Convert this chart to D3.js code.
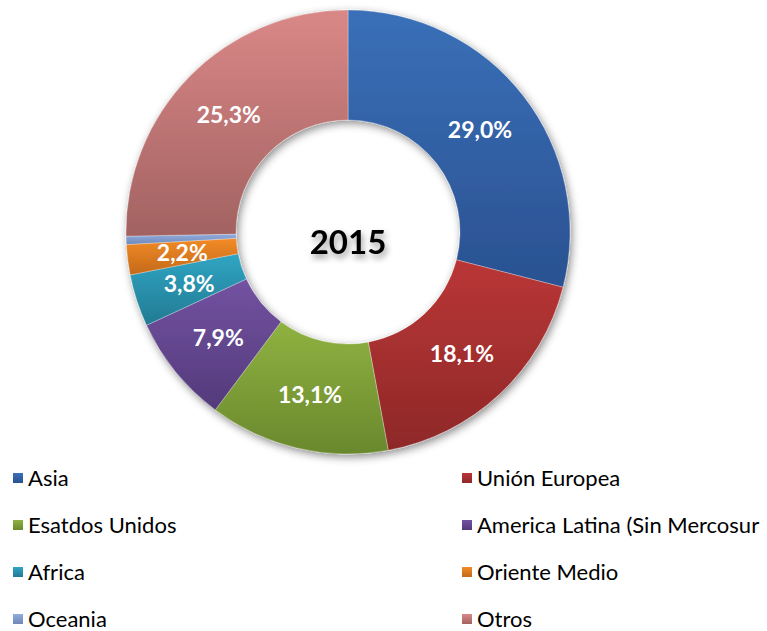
<!DOCTYPE html>
<html>
<head>
<meta charset="utf-8">
<script src="https://cdn.jsdelivr.net/npm/d3@7"></script>
<style>
	body { margin: 0; background: #fff; }
	svg { display: block; }
</style>
</head>
<body>
<svg id="chart" width="767" height="631"></svg>
<script>
var aRegions = ['Asia', 'Unión Europea', 'Esatdos Unidos', 'America Latina (Sin Mercosur', 'Africa', 'Oriente Medio', 'Oceania', 'Otros'];
var aShares = [29.0, 18.1, 13.1, 7.9, 3.8, 2.2, 0.6, 25.3];
var aLabels = ['29,0%', '18,1%', '13,1%', '7,9%', '3,8%', '2,2%', '', '25,3%'];
var aColorsTop = ['#3a70b8', '#ba3636', '#8fb241', '#7352a2', '#30a5c4', '#f38b26', '#91acde', '#d98887'];
var aColorsBottom = ['#2a5191', '#8e2828', '#6a882d', '#533a7a', '#227a92', '#c2691a', '#6f88b8', '#a26261'];
var strTitle = '2015';

var sSvg = d3.select('#chart');
var nCx = 348, nCy = 232;
var nOuter = 222, nInner = 112;

var sDefs = sSvg.append('defs');
var sShadow = sDefs.append('filter')
	.attr('id', 'ringShadow')
	.attr('x', '-20%').attr('y', '-20%')
	.attr('width', '140%').attr('height', '140%');
sShadow.append('feDropShadow')
	.attr('dx', 2).attr('dy', 3)
	.attr('stdDeviation', 4)
	.attr('flood-color', '#000')
	.attr('flood-opacity', 0.45);

var sTextShadow = sDefs.append('filter')
	.attr('id', 'textShadow')
	.attr('x', '-30%').attr('y', '-30%')
	.attr('width', '160%').attr('height', '180%');
sTextShadow.append('feDropShadow')
	.attr('dx', 2).attr('dy', 4)
	.attr('stdDeviation', 3)
	.attr('flood-color', '#000')
	.attr('flood-opacity', 0.4);

aRegions.forEach(function(strName, nIndex)
{
	var sGrad = sDefs.append('linearGradient')
		.attr('id', 'grad' + nIndex)
		.attr('x1', 0).attr('y1', 0)
		.attr('x2', 0).attr('y2', 1);
	sGrad.append('stop').attr('offset', '0%').attr('stop-color', aColorsTop[nIndex]);
	sGrad.append('stop').attr('offset', '100%').attr('stop-color', aColorsBottom[nIndex]);
});

var pie = d3.pie().sort(null).value(function(d) { return d; });
var arc = d3.arc().innerRadius(nInner).outerRadius(nOuter);
var arcLabel = d3.arc().innerRadius((nInner + nOuter) / 2).outerRadius((nInner + nOuter) / 2);

var aArcs = pie(aShares);

var sChart = sSvg.append('g')
	.attr('transform', 'translate(' + nCx + ',' + nCy + ')');

sChart.append('g')
	.attr('filter', 'url(#ringShadow)')
	.selectAll('path')
	.data(aArcs)
	.enter()
	.append('path')
		.attr('d', arc)
		.attr('fill', function(d, i) { return 'url(#grad' + i + ')'; })
		.attr('stroke', '#ffffff')
		.attr('stroke-opacity', 0.5)
		.attr('stroke-width', 0.6);

sChart.selectAll('.label')
	.data(aArcs)
	.enter()
	.append('text')
		.attr('class', 'label')
		.attr('transform', function(d) { return 'translate(' + arcLabel.centroid(d) + ')'; })
		.attr('text-anchor', 'middle')
		.attr('dy', '0.36em')
		.attr('fill', '#ffffff')
		.style('font-family', 'Lato, "Open Sans", sans-serif')
		.style('font-weight', 'bold')
		.style('font-size', '23px')
		.text(function(d, i) { return aLabels[i]; });

sChart.append('text')
	.attr('text-anchor', 'middle')
	.attr('dy', '0.36em')
	.attr('y', 10)
	.attr('fill', '#000')
	.attr('filter', 'url(#textShadow)')
	.style('font-family', 'Lato, "Open Sans", sans-serif')
	.style('font-weight', 'bold')
	.style('font-size', '33px')
	.text(strTitle);

// legend, two columns
var aLegendX = [13, 462];
var aLegendY = [478, 525, 572, 619];
var sLegend = sSvg.append('g');
var sItems = sLegend.selectAll('g')
	.data(aRegions)
	.enter()
	.append('g')
		.attr('transform', function(d, i)
		{
			return 'translate(' + aLegendX[i % 2] + ',' + aLegendY[Math.floor(i / 2)] + ')';
		});

sItems.append('rect')
	.attr('x', 0).attr('y', -5)
	.attr('width', 10).attr('height', 10)
	.attr('fill', function(d, i) { return 'url(#grad' + i + ')'; });

sItems.append('text')
	.attr('x', 15)
	.attr('dy', '0.35em')
	.attr('fill', '#000')
	.style('font-family', 'Lato, "Open Sans", sans-serif')
	.style('font-size', '22px')
	.text(function(d) { return d; });
</script>
</body>
</html>
